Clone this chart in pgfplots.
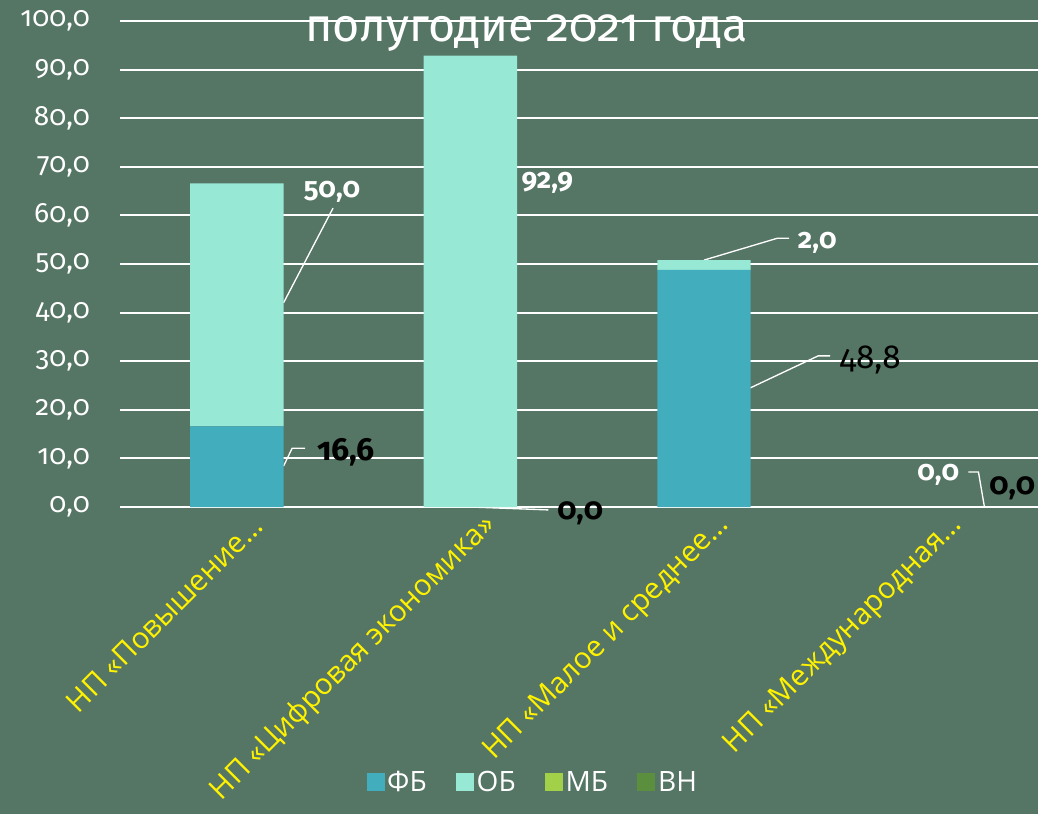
\documentclass[border=0pt]{standalone}
\usepackage{fontspec}
\setmainfont{Fira Sans}[Numbers={OldStyle,Proportional}]
\newfontfamily\catfont{Open Sans}
\usepackage{pgfplots}
\pgfplotsset{compat=1.18}
\definecolor{bg}{HTML}{557565}
\definecolor{cFB}{HTML}{41ADBD}
\definecolor{cOB}{HTML}{97E8D5}
\definecolor{cMB}{HTML}{A2D048}
\definecolor{cVN}{HTML}{5B8E3D}
\begin{document}
\begin{tikzpicture}
\fill[bg] (0,0) rectangle (778.5pt,610.5pt);
\path[use as bounding box] (0,0) rectangle (778.5pt,610.5pt);
\begin{axis}[
  at={(90pt,230.25pt)}, anchor=south west,
  scale only axis, width=688.5pt, height=364.5pt,
  ybar stacked, bar width=0.4,
  xmin=-0.5, xmax=3.43, ymin=0, ymax=100,
  ytick={0,10,...,100},
  xtick={0,1,2,3},
  xticklabels={НП «Повышение…, НП «Цифровая экономика», НП «Малое и среднее…, НП «Международная…},
  major tick length=0pt,
  axis line style={draw=none},
  ymajorgrids, major grid style={white, line width=1.5pt},
  clip=false,
  /pgf/number format/.cd, fixed, fixed zerofill, precision=1, use comma, assume math mode=true,
  /pgfplots/.cd,
  yticklabel style={font=\fontsize{21}{23}\selectfont, text=white, xshift=-19pt},
  xticklabel style={font=\catfont\fontsize{22}{24}\selectfont, text=yellow, xshift=18pt, yshift=-8pt, rotate=45, anchor=east},
  legend style={at={(0.45,-0.566)}, anchor=center, legend columns=-1, draw=none, fill=none,
    font=\catfont\fontsize{21}{23}\selectfont, text=white,
    /tikz/every even column/.append style={column sep=20pt}},
  legend image code/.code={\fill[#1] (0pt,-6.75pt) rectangle (13.5pt,6.75pt);},
]
\addplot[fill=cFB, draw=none] coordinates {(0,16.6) (1,0) (2,48.8) (3,0)};
\addplot[fill=cOB, draw=none] coordinates {(0,50.0) (1,92.9) (2,2.0) (3,0)};
\addplot[fill=cMB, draw=none] coordinates {(0,0) (1,0) (2,0) (3,0)};
\addplot[fill=cVN, draw=none] coordinates {(0,0) (1,0) (2,0) (3,0)};
\legend{ФБ, ОБ, МБ, ВН}

% leader lines
\draw[white, line width=1pt] (axis cs:0.2,42) -- (axis cs:0.412,61.5);
\draw[white, line width=1pt] (axis cs:0.2,8.4) -- (axis cs:0.237,12.1) -- (axis cs:0.292,12.1);
\draw[white, line width=1pt] (axis cs:1.0,0) -- (axis cs:1.334,-0.6);
\draw[white, line width=1pt] (axis cs:2.0,50.8) -- (axis cs:2.314,55.3) -- (axis cs:2.365,55.3);
\draw[white, line width=1pt] (axis cs:2.198,24.5) -- (axis cs:2.489,31.1) -- (axis cs:2.54,31.1);
\draw[white, line width=1pt] (axis cs:3.132,7.2) -- (axis cs:3.175,7.2) -- (axis cs:3.2,0.2);

% data labels
\node[text=white, font=\bfseries\fontsize{21}{23}\selectfont] at (axis cs:0.408,64.8) {50,0};
\node[text=black, font=\bfseries\fontsize{24}{26}\selectfont] at (axis cs:0.468,11.3) {16,6};
\node[text=white, font=\bfseries\fontsize{21}{23}\selectfont] at (axis cs:1.329,66.7) {92,9};
\node[text=black, font=\bfseries\fontsize{23}{25}\selectfont] at (axis cs:1.47,-1.2) {0,0};
\node[text=white, font=\bfseries\fontsize{21}{23}\selectfont] at (axis cs:2.485,54.3) {2,0};
\node[text=black, font=\fontsize{25}{27}\selectfont] at (axis cs:2.712,30.2) {48,8};
\node[text=white, font=\bfseries\fontsize{21}{23}\selectfont] at (axis cs:3.003,6.6) {0,0};
\node[text=black, font=\bfseries\fontsize{23}{25}\selectfont] at (axis cs:3.32,3.9) {0,0};
\end{axis}
\node[text=white, font=\fontsize{35}{37}\selectfont] at (395pt,586pt) {полугодие 2021 года};
\end{tikzpicture}
\end{document}
